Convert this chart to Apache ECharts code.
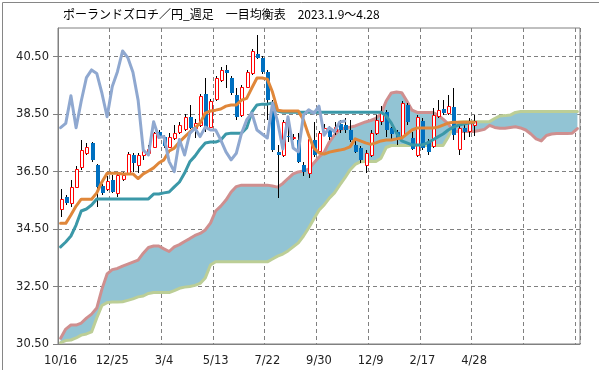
<!DOCTYPE html>
<html><head><meta charset="utf-8">
<script src="https://cdn.jsdelivr.net/npm/echarts@6/dist/echarts.min.js"></script>
<style>html,body{margin:0;padding:0;background:#fff}#c{width:599px;height:370px}</style>
</head><body><div id="c"></div>
<script>
const titleText = 'ポーランドズロチ／円_週足　一目均衡表　2023.1.9～4.28';
const tickLabels = ['10/16','12/25','3/4','5/13','7/22','9/30','12/9','2/17','4/28'];
const yTicks = [30.5,32.5,34.5,36.5,38.5,40.5];
const weekCount = 101;

const open = [35.19,35.61,35.40,35.95,36.65,37.14,37.49,36.72,36.00,35.88, 36.21,35.77,36.23,36.44,37.08,36.73,37.08,37.14,37.37,37.89, 37.69,37.37,37.66,37.87,37.98,38.40,38.01,38.12,39.19,38.06, 39.03,39.69,40.04,39.75,39.17,38.47,39.46,39.92,40.58,40.47, 39.98,38.89,37.19,37.08,37.74,37.69,37.60,36.73,36.44,37.60, 37.22,37.83,37.97,37.91,38.16,38.12,37.95,37.43,37.31,36.73, 37.08,37.83,38.26,38.58,38.01,37.88,37.74,38.82,37.66,37.08, 38.26,37.57,37.39,38.44,38.67,38.53,38.76,37.28,38.03,37.91, 38.12];
const close = [35.54,35.40,35.97,36.58,37.25,37.37,36.91,35.97,35.75,36.18, 35.80,36.38,36.38,37.10,36.79,37.08,37.23,37.28,37.83,37.72, 37.39,37.72,37.83,38.12,38.40,38.03,38.18,39.14,38.03,38.96, 39.77,40.04,39.92,39.23,38.41,39.46,39.98,40.70,40.47,39.96, 38.99,37.25,37.08,38.24,37.69,37.72,36.85,36.50,37.62,37.08, 37.83,38.01,37.72,38.05,37.95,37.95,37.60,37.19,36.91,37.14, 37.83,38.30,38.54,37.95,37.81,37.67,38.88,38.23,37.29,38.41, 37.32,37.19,38.47,38.65,38.53,38.78,37.77,38.03,37.89,38.23, 38.26];
const high = [35.88,35.69,36.21,36.70,37.60,37.51,37.54,36.77,36.07,36.35, 36.38,36.42,36.49,37.18,37.15,37.15,37.29,37.43,37.88,37.95, 37.77,37.83,38.12,38.24,38.50,38.82,38.33,39.20,39.77,39.03, 39.83,40.14,40.21,39.83,39.40,39.51,40.04,40.77,41.26,40.52, 40.04,38.99,37.43,38.30,38.37,37.81,37.84,36.84,37.77,38.23, 37.91,38.16,38.09,38.23,38.30,38.37,38.30,37.60,37.39,37.25, 37.95,38.47,38.78,38.64,38.05,37.95,38.96,38.89,37.88,38.47, 38.37,37.64,38.71,38.99,38.99,39.17,39.41,38.12,38.16,38.37, 38.47];
const low = [34.93,35.34,35.28,35.93,36.56,37.08,36.85,35.28,35.69,35.82, 35.76,35.61,36.17,36.38,36.49,36.45,36.91,37.08,37.32,37.67, 37.32,37.32,37.60,37.81,37.91,37.98,37.68,38.05,37.89,38.02, 38.96,39.62,39.40,39.17,38.30,38.40,39.41,39.86,40.42,39.90, 38.30,37.18,35.58,37.01,37.53,37.60,36.80,36.35,36.28,37.01, 37.15,37.77,37.60,37.77,37.84,37.84,37.53,37.15,36.80,36.44, 37.01,37.77,38.12,37.72,37.60,37.43,37.67,38.12,37.25,37.01, 37.25,37.08,37.32,38.37,38.47,38.47,37.60,37.08,37.60,37.71, 37.74];
const tenkan = [34.70,34.70,34.99,35.30,35.54,35.54,35.54,35.76,36.14,36.44, 36.44,36.44,36.42,36.42,36.42,36.26,36.42,36.52,36.63,36.80, 36.91,37.22,37.32,37.53,37.71,37.88,38.02,38.19,38.54,38.61, 38.64,38.68,38.78,38.82,38.82,38.99,39.05,39.41,39.76,39.76, 39.72,39.27,38.64,38.61,38.61,38.61,38.61,38.30,37.77,37.32, 37.15,37.11,37.18,37.22,37.25,37.29,37.36,37.64,37.57,37.50, 37.45,37.50,37.57,37.60,37.60,37.64,37.67,37.81,37.95,38.02, 38.02,38.02,38.02,38.05,38.12,38.19,38.22,38.22,38.22,38.22, 38.22];
const kijun = [33.88,34.05,34.26,34.64,35.13,35.20,35.34,35.55,35.55,35.55, 35.55,35.55,35.55,35.55,35.55,35.55,35.55,35.55,35.72,35.72, 35.76,35.79,35.97,36.14,36.45,36.84,37.04,37.29,37.50,37.53, 37.53,37.60,37.81,37.84,37.84,37.84,38.02,38.57,38.82,38.85, 38.85,38.89,38.61,38.57,38.57,38.57,38.57,38.57,38.57,38.57, 38.57,38.57,38.57,38.57,38.57,38.57,38.57,38.57,38.57,38.57, 38.57,38.57,38.57,38.44,38.19,37.84,37.57,37.50,37.43,37.43, 37.43,37.50,37.60,37.71,37.81,37.95,38.05,38.12,38.16,38.19, 38.22];
const chikou = [38.03,38.18,39.14,38.03,38.96,39.77,40.04,39.92,39.23,38.41, 39.46,39.98,40.70,40.47,39.96,38.99,37.25,37.08,38.24,37.69, 37.72,36.85,36.50,37.62,37.08,37.83,38.01,37.72,38.05,37.95, 37.95,37.60,37.19,36.91,37.14,37.83,38.30,38.54,37.95,37.81, 37.67,38.88,38.23,37.29,38.41,37.32,37.19,38.47,38.65,38.53, 38.78,37.77,38.03,37.89,38.23,38.26];
const spanA = [30.70,31.02,31.16,31.16,31.23,31.40,31.54,31.75,32.41,32.94, 33.09,33.13,33.21,33.28,33.35,33.42,33.66,33.86,33.91,33.91, 33.81,33.72,33.88,33.96,34.07,34.17,34.28,34.35,34.47,34.71, 35.13,35.30,35.51,35.79,35.98,36.03,36.03,36.03,36.03,36.03, 36.03,36.00,35.96,36.09,36.26,36.42,36.49,36.52,36.59,36.80, 37.01,37.18,37.53,37.78,37.95,38.02,38.05,38.09,38.16,38.23, 38.28,38.35,38.51,38.96,39.24,39.27,39.25,38.96,38.64,38.56, 38.56,38.56,38.56,38.47,38.33,38.16,37.91,37.90,37.90,37.90, 37.90,37.93,37.97,38.11,38.04,38.01,38.01,38.04,38.06,38.02, 37.95,37.81,37.64,37.57,37.76,37.81,37.83,37.83,37.83,37.84, 38.00];
const spanB = [30.55,30.62,30.64,30.71,30.81,30.85,30.92,31.41,31.84,31.94, 31.96,31.96,31.97,32.02,32.07,32.14,32.17,32.26,32.29,32.29, 32.29,32.29,32.36,32.44,32.48,32.50,32.54,32.61,32.80,33.25, 33.36,33.36,33.36,33.36,33.36,33.36,33.36,33.36,33.36,33.36, 33.36,33.46,33.56,33.63,33.74,33.88,34.02,34.26,34.54,34.85, 35.16,35.34,35.58,35.76,36.03,36.28,36.56,36.75,36.84,36.85, 36.85,36.85,36.97,37.34,37.41,37.41,37.41,37.41,37.41,37.41, 37.41,37.41,37.41,37.41,37.41,37.71,38.06,38.22,38.24,38.24, 38.24,38.24,38.24,38.24,38.35,38.44,38.45,38.47,38.56,38.59, 38.59,38.59,38.59,38.59,38.59,38.59,38.59,38.59,38.59,38.59, 38.59];

const FONT = '"Noto Sans CJK JP", "Noto Sans", sans-serif';
const AXIS_FONT = '"DejaVu Sans", "Noto Sans", sans-serif';
const categories = Array.from({length: weekCount}, (_, i) => String(i));
const candleData = open.map((o, i) => [i, o, close[i], low[i], high[i]]);

const chart = echarts.init(document.getElementById('c'), null, {renderer: 'canvas'});
const lineSeries = (name, data, color, z) => ({
  type: 'line', name, data, symbol: 'none', silent: true, z,
  lineStyle: {width: 3, color, join: 'round', cap: 'round'},
  connectNulls: false
});

chart.setOption({
  animation: false,
  backgroundColor: '#fff',
  title: {
    text: titleText, left: 63, top: 8, padding: 0,
    textStyle: {fontSize: 12, fontWeight: 'normal', color: '#000', fontFamily: FONT}
  },
  graphic: [{
    type: 'rect', left: 0, top: 0, silent: true, z: 100,
    shape: {x: 0.5, y: 0.5, width: 598, height: 369},
    style: {fill: null, stroke: '#868686', lineWidth: 1}
  }],
  grid: {left: 58, top: 28, width: 522, height: 316, show: true, borderColor: '#808080', borderWidth: 1, outerBoundsMode: 'none'},
  xAxis: {
    type: 'category', data: categories, boundaryGap: true,
    axisLine: {lineStyle: {color: '#808080', width: 1}},
    axisTick: {show: false},
    axisLabel: {interval: 9, color: '#222', fontSize: 11.5, fontFamily: AXIS_FONT, margin: 11,
      formatter: (v, idx) => tickLabels[idx / 10] || ''},
    splitLine: {show: true, interval: 9, lineStyle: {color: '#808080', width: 1, type: [4, 3]}}
  },
  yAxis: {
    type: 'value', min: 30.5, max: 41.5, interval: 2,
    axisLine: {show: true, lineStyle: {color: '#808080', width: 1}},
    axisTick: {show: true, length: 5, customValues: yTicks, lineStyle: {color: '#808080'}},
    axisLabel: {customValues: yTicks, color: '#222', fontSize: 11.5, fontFamily: AXIS_FONT, margin: 9,
      formatter: v => Number(v).toFixed(2)},
    splitLine: {show: true, lineStyle: {color: '#808080', width: 1, type: [4, 3]}}
  },
  series: [
    {
      type: 'custom', name: 'cloud', silent: true, z: 1,
      data: [[0, spanA[0]]],
      renderItem(params, api) {
        const pts = [];
        for (let i = 0; i < spanA.length; i++) pts.push(api.coord([i, spanA[i]]));
        for (let i = spanB.length - 1; i >= 0; i--) pts.push(api.coord([i, spanB[i]]));
        return {type: 'polygon', shape: {points: pts}, style: {fill: '#92C4D4', stroke: null}};
      }
    },
    lineSeries('先行スパン1', spanA, '#CF8F8F', 2),
    lineSeries('先行スパン2', spanB, '#BCCE96', 2),
    {
      type: 'custom', name: 'candles', silent: true, z: 3,
      data: candleData,
      encode: {x: 0, y: [1, 2, 3, 4]},
      renderItem(params, api) {
        const i = api.value(0);
        const o = api.value(1), c = api.value(2), l = api.value(3), h = api.value(4);
        const pO = api.coord([i, o]), pC = api.coord([i, c]);
        const pL = api.coord([i, l]), pH = api.coord([i, h]);
        const x = Math.round(pO[0]);
        const top = Math.round(Math.min(pO[1], pC[1]));
        const bot = Math.round(Math.max(pO[1], pC[1]));
        const children = [{
          type: 'line', shape: {x1: x + 0.5, y1: Math.round(pH[1]), x2: x + 0.5, y2: Math.round(pL[1])},
          style: {stroke: '#000', lineWidth: 1}
        }];
        if (c >= o) {
          children.push({type: 'rect', shape: {x: x - 0.5, y: top + 0.5, width: 3, height: Math.max(bot - top, 1)},
            style: {fill: '#fff', stroke: '#FF0000', lineWidth: 1}});
        } else {
          children.push({type: 'rect', shape: {x: x - 1, y: top, width: 4, height: Math.max(bot - top, 1)},
            style: {fill: '#0070C0', stroke: null}});
        }
        return {type: 'group', children};
      }
    },
    lineSeries('基準線', kijun, '#3B98A8', 4),
    lineSeries('転換線', tenkan, '#E0873A', 5),
    lineSeries('遅行スパン', chikou, '#8FA8D0', 6)
  ]
});
</script></body></html>
